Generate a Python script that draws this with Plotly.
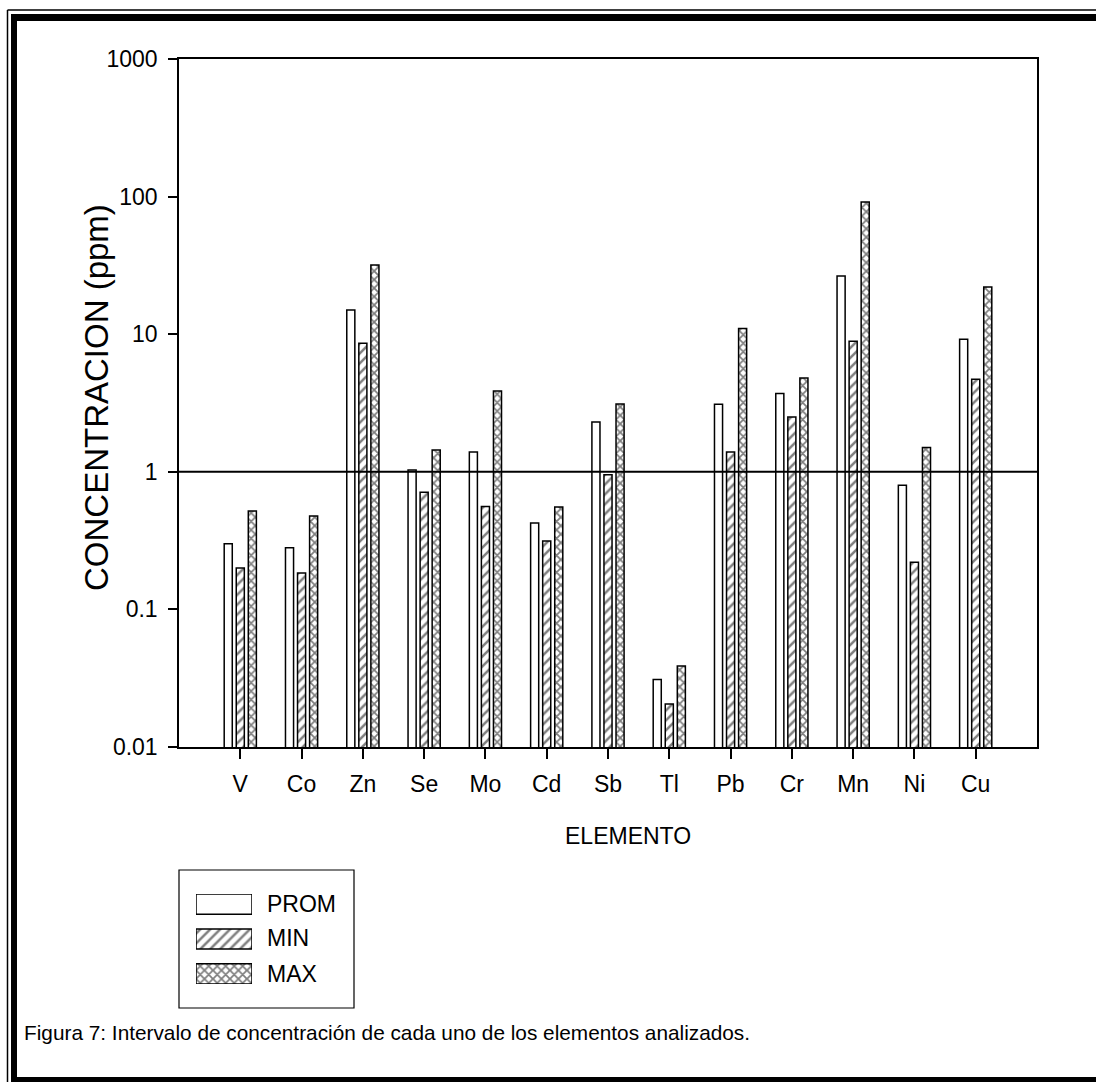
import plotly.graph_objects as go

# Concentration ranges (ppm) per element
elements = ["V", "Co", "Zn", "Se", "Mo", "Cd", "Sb", "Tl", "Pb", "Cr", "Mn", "Ni", "Cu"]
prom = [0.30, 0.28, 15.0, 1.03, 1.39, 0.425, 2.30, 0.031, 3.1, 3.7, 26.5, 0.80, 9.2]
minimo = [0.20, 0.184, 8.6, 0.71, 0.56, 0.314, 0.95, 0.0205, 1.39, 2.5, 8.9, 0.22, 4.7]
maximo = [0.52, 0.478, 31.8, 1.44, 3.87, 0.555, 3.11, 0.0388, 11.0, 4.8, 91.4, 1.5, 22.0]

series_names = ["PROM", "MIN", "MAX"]
series_patterns = ["", "/", "x"]

y_tickvals = [0.01, 0.1, 1, 10, 100, 1000]
y_ticktext = ["0.01", "0.1", "1", "10", "100", "1000"]

caption = "Figura 7: Intervalo de concentración de cada uno de los elementos analizados."

W, H = 1096, 1082
FONT = "Liberation Sans, Arial, sans-serif"


def px(x):
    return x / W


def py(y):
    return 1 - y / H


PAT_SIZE = {"": 7, "/": 7, "x": 6}
PAT_SOLIDITY = {"": 0.3, "/": 0.36, "x": 0.5}


def pattern(shape):
    return dict(shape=shape, fgcolor="black", bgcolor="white",
                size=PAT_SIZE[shape], solidity=PAT_SOLIDITY[shape])


fig = go.Figure()

for name, vals, pat in zip(series_names, [prom, minimo, maximo], series_patterns):
    fig.add_trace(go.Bar(
        x=elements, y=vals, name=name,
        marker=dict(color="white", line=dict(color="black", width=1.5), pattern=pattern(pat)),
        showlegend=False,
    ))

# legend swatches drawn as a small inset of horizontal bars
fig.add_trace(go.Bar(
    x=[1, 1, 1], y=series_names, orientation="h", xaxis="x2", yaxis="y2",
    marker=dict(color="white", line=dict(color="black", width=1.5),
                pattern=dict(shape=series_patterns, fgcolor="black", bgcolor="white",
                             size=[PAT_SIZE[s] for s in series_patterns],
                             solidity=[PAT_SOLIDITY[s] for s in series_patterns])),
    width=0.58, showlegend=False,
))

fig.update_layout(
    width=W, height=H,
    margin=dict(l=0, r=0, t=0, b=0, autoexpand=False),
    paper_bgcolor="white", plot_bgcolor="white",
    font=dict(family=FONT, color="black", size=23),
    barmode="group", bargap=0.41, bargroupgap=0.33,
    xaxis=dict(domain=[px(179), px(1037)], range=[-1, 13], type="category",
               showline=True, linecolor="black", linewidth=1.5, mirror=True,
               ticks="outside", ticklen=10, tickwidth=1.5, tickcolor="black",
               showgrid=False, zeroline=False, tickfont=dict(size=23),
               ticklabelstandoff=6),
    yaxis=dict(domain=[py(747), py(59)], type="log", range=[-2, 3],
               tickvals=y_tickvals, ticktext=y_ticktext,
               showline=True, linecolor="black", linewidth=1.5, mirror=True,
               ticks="outside", ticklen=9, tickwidth=1.5, tickcolor="black",
               showgrid=False, zeroline=False, tickfont=dict(size=23),
               ticklabelstandoff=6),
    xaxis2=dict(domain=[px(196), px(252)], range=[0, 1], anchor="y2",
                visible=False, fixedrange=True),
    yaxis2=dict(domain=[py(984), py(894)], range=[2.29, -0.29], anchor="x2",
                type="category", visible=False, fixedrange=True),
)

shapes = []
# reference line at 1 ppm (0.4 of the -2..3 decade range)
shapes.append(dict(type="line", xref="x domain", yref="y domain", x0=0, x1=1, y0=0.4, y1=0.4,
                   line=dict(color="black", width=2)))
# legend box
shapes.append(dict(type="rect", xref="paper", yref="paper", x0=px(179), x1=px(354),
                   y0=py(1008), y1=py(870), line=dict(color="black", width=1.2)))
# page frame: thin outer line plus thick inner band
shapes.append(dict(type="line", xref="paper", yref="paper", x0=px(7.5), x1=px(7.5),
                   y0=py(10), y1=0, line=dict(color="black", width=1.5)))
shapes.append(dict(type="line", xref="paper", yref="paper", x0=px(7.5), x1=1,
                   y0=py(10), y1=py(10), line=dict(color="black", width=1.5)))
shapes.append(dict(type="rect", xref="paper", yref="paper", x0=px(11), x1=px(17),
                   y0=0, y1=py(14), fillcolor="black", line=dict(width=0)))
shapes.append(dict(type="rect", xref="paper", yref="paper", x0=px(11), x1=1,
                   y0=py(21), y1=py(14), fillcolor="black", line=dict(width=0)))
shapes.append(dict(type="rect", xref="paper", yref="paper", x0=px(11), x1=1,
                   y0=0, y1=py(1077), fillcolor="black", line=dict(width=0)))
fig.update_layout(shapes=shapes)

annotations = [
    dict(text="ELEMENTO", x=px(628), y=py(836), xref="paper", yref="paper",
         showarrow=False, font=dict(size=23), xanchor="center", yanchor="middle"),
    dict(text="CONCENTRACION (ppm)", x=px(96), y=py(398), xref="paper", yref="paper",
         showarrow=False, font=dict(size=33), textangle=-90,
         xanchor="center", yanchor="middle"),
    dict(text=caption, x=px(22), y=py(1032), xref="paper", yref="paper",
         showarrow=False, font=dict(size=20.8), xanchor="left", yanchor="middle"),
]
for name, yc in zip(series_names, [904, 938, 974]):
    annotations.append(dict(text=name, x=px(265), y=py(yc), xref="paper", yref="paper",
                            showarrow=False, font=dict(size=23),
                            xanchor="left", yanchor="middle"))
fig.update_layout(annotations=annotations)

fig.write_html("out.html",
               post_script="document.body.style.margin='0';"
                           "document.documentElement.style.margin='0';")
